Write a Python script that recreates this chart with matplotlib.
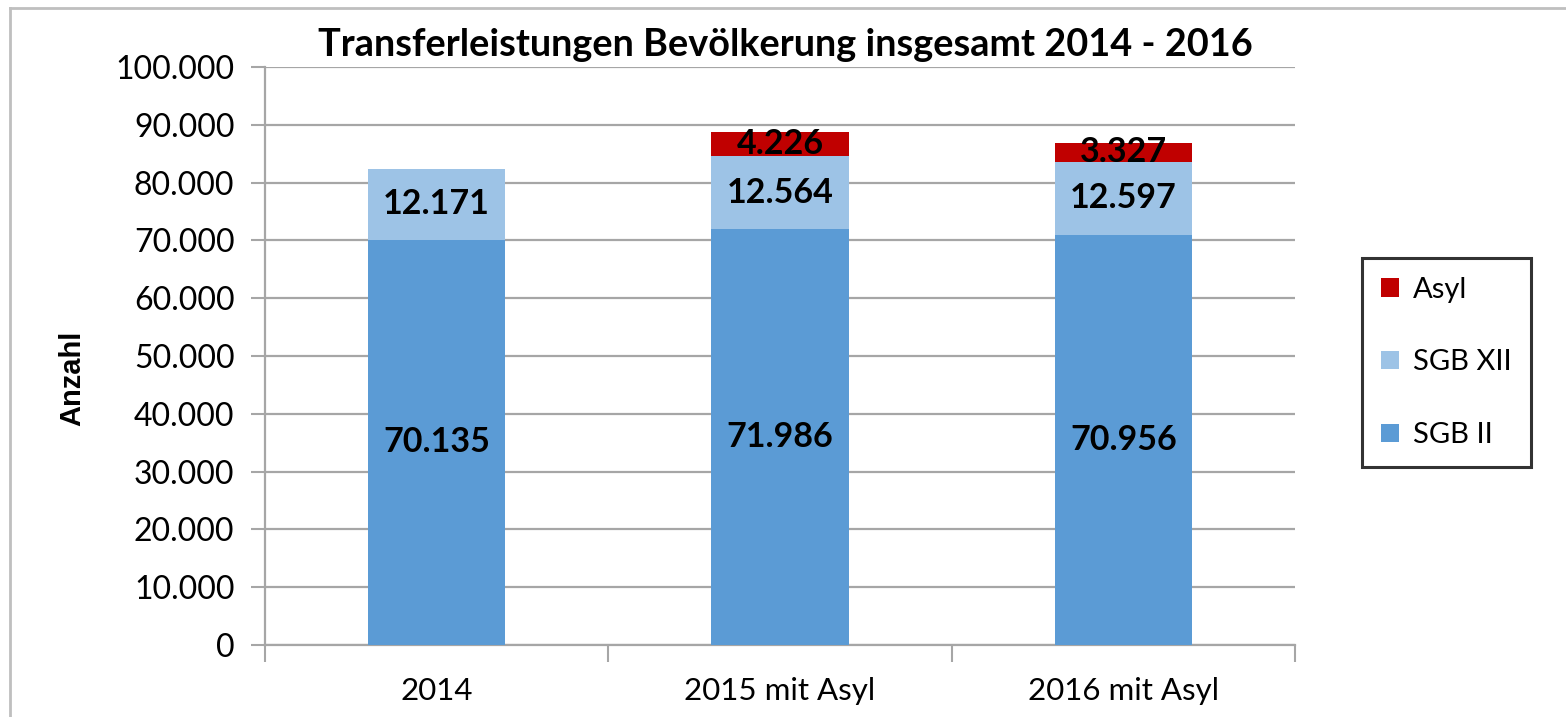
import matplotlib
matplotlib.use('Agg')
import matplotlib.pyplot as plt
import numpy as np
from matplotlib.lines import Line2D
from matplotlib.patches import Patch

categories = ["2014", "2015 mit Asyl", "2016 mit Asyl"]
sgb2 = [70135, 71986, 70956]
sgb12 = [12171, 12564, 12597]
asyl = [0, 4226, 3327]

series_names = ["SGB II", "SGB XII", "Asyl"]
colors = ["#5B9BD5", "#9DC3E6", "#C00000"]
yticks = np.arange(0, 100001, 10000)

plt.rcParams['font.family'] = ['Lato', 'DejaVu Sans']


def fmt(v):
    return f"{v:,.0f}".replace(",", ".")


fig = plt.figure(figsize=(15.66, 7.17), dpi=100, facecolor='white')
ax = fig.add_axes([265 / 1566, 1 - 645 / 717, (1295 - 265) / 1566, (645 - 67) / 717])

x = np.arange(len(categories))
bottom = np.zeros(len(categories))
for vals, name, col in zip([sgb2, sgb12, asyl], series_names, colors):
    vals = np.array(vals, dtype=float)
    ax.bar(x, vals, width=0.4, bottom=bottom, color=col, label=name, zorder=3)
    for xi, b, v in zip(x, bottom, vals):
        if v > 0:
            ax.text(xi, b + v / 2, fmt(v), ha='center', va='center',
                    fontsize=24.5, fontweight='bold', color='black', zorder=4)
    bottom += vals

ax.set_xlim(-0.5, 2.5)
ax.set_ylim(0, 100000)
ax.set_yticks(yticks)
ax.set_yticklabels([fmt(v) for v in yticks], fontsize=23)
ax.yaxis.grid(True, color='#A6A6A6', linewidth=1.6, zorder=0)
ax.set_axisbelow(True)

ax.set_xticks(x)
ax.set_xticklabels(categories, fontsize=22.5)
ax.tick_params(axis='x', length=0, pad=23)
ax.set_xticks([-0.5, 0.5, 1.5, 2.5], minor=True)
ax.tick_params(axis='x', which='minor', length=12, width=1.5, color='#A6A6A6')
ax.tick_params(axis='y', length=10, width=1.5, color='#A6A6A6', pad=12)

for s in ['top', 'right']:
    ax.spines[s].set_visible(False)
for s in ['left', 'bottom']:
    ax.spines[s].set_color('#A6A6A6')
    ax.spines[s].set_linewidth(1.6)

fig.text(72 / 1566, 1 - 378 / 717, "Anzahl", rotation=90, ha='center', va='center',
         fontsize=21, fontweight='bold', family=['Liberation Sans', 'DejaVu Sans'])

fig.text(785 / 1566, 1 - 45 / 717, "Transferleistungen Bevölkerung insgesamt 2014 - 2016",
         ha='center', va='center', fontsize=27.3, fontweight='bold')

handles = [Patch(facecolor=c, edgecolor='none') for c in colors[::-1]]
leg = fig.legend(handles, series_names[::-1], loc='center',
                 bbox_to_anchor=((1366 + 1527) / 2 / 1566, 1 - (258 + 467) / 2 / 717),
                 fontsize=21, frameon=True, fancybox=False, edgecolor='black',
                 labelspacing=1.6, handlelength=0.6, handleheight=0.6,
                 handletextpad=0.5, borderpad=0.65)
leg.get_frame().set_linewidth(2.2)

# outer chart frame
fig.add_artist(Line2D([10 / 1566, 1], [1 - 8 / 717, 1 - 8 / 717], color='#BFBFBF', linewidth=2))
fig.add_artist(Line2D([10 / 1566, 10 / 1566], [0, 1 - 8 / 717], color='#BFBFBF', linewidth=2))

fig.savefig("out.png", dpi=100, facecolor='white')
